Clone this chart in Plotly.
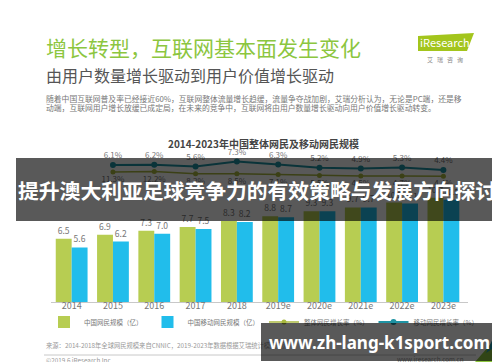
import plotly.graph_objects as go

W, H = 500, 362

# ---------------- data ----------------
categories = ["2014", "2015", "2016", "2017", "2018", "2019e", "2020e", "2021e", "2022e", "2023e"]
total_users = [6.5, 6.9, 7.3, 7.7, 8.3, 8.8, 9.3, 9.7, 10.2, 10.7]      # 中国网民规模（亿）
mobile_users = [5.6, 6.2, 7.0, 7.5, 8.2, 8.7, 9.3, 9.7, 10.1, 10.5]     # 中国移动网民规模（亿）
growth_categories = ["2015", "2016", "2017", "2018", "2019e", "2020e", "2021e", "2022e", "2023e"]
teal_growth = [6.1, 6.2, 5.6, 7.3, 6.3, 5.2, 4.9, 5.3, 4.4]            # 移动网民增长率（%）
olive_growth = [11.3, 12.2, 8.2, 8.5, 7.1, 5.5, 4.5, 4.7, 4.4]         # 整体网民增长率（%）

FONT = "Noto Sans CJK SC, Noto Sans, sans-serif"
GREEN = "#b7cd52"
BLUE = "#21bdeb"
TEAL = "#1f93a3"
OLIVE = "#a9b83f"


def px(x):
    return x / W


def py(y):
    return 1 - y / H


fig = go.Figure()
fig.add_trace(go.Bar(
    x=categories, y=total_users, name="中国网民规模（亿）",
    marker=dict(color=GREEN, line=dict(width=0)),
    text=[f"{v:.1f}" for v in total_users], textposition="outside",
    textfont=dict(size=8.5, color="#777"), cliponaxis=False,
))
fig.add_trace(go.Bar(
    x=categories, y=mobile_users, name="中国移动网民规模（亿）",
    marker=dict(color=BLUE, line=dict(width=0)),
    text=[f"{v:.1f}" for v in mobile_users], textposition="outside",
    textfont=dict(size=8.5, color="#777"), cliponaxis=False,
))
fig.add_trace(go.Scatter(
    x=growth_categories, y=olive_growth, yaxis="y3", name="整体网民增长率（%）",
    mode="lines+markers+text", line=dict(color=OLIVE, width=1.5),
    marker=dict(size=5, color=OLIVE),
    text=[f"{v:.1f}%" for v in olive_growth], textposition="bottom center",
    textfont=dict(size=8, color="#777"), cliponaxis=False,
))
fig.add_trace(go.Scatter(
    x=growth_categories, y=teal_growth, yaxis="y2", name="移动网民增长率（%）",
    mode="lines+markers+text", line=dict(color=TEAL, width=2),
    marker=dict(size=6, color=TEAL),
    text=[f"{v:.1f}%" for v in teal_growth], textposition="top center",
    textfont=dict(size=8, color="#777"), cliponaxis=False,
))

X0, X1, YB, YT = 43, 460, 294, 140
fig.update_layout(
    width=W, height=H,
    margin=dict(l=0, r=0, t=0, b=0, pad=0),
    paper_bgcolor="white", plot_bgcolor="white",
    font=dict(family=FONT, color="#666"),
    barmode="group", bargap=0.23, bargroupgap=0,
    xaxis=dict(domain=[px(X0), px(X1)], type="category", showgrid=False,
               showline=True, linecolor="#c8c8c8", linewidth=1, ticks="",
               ticklabelstandoff=-5,
               tickfont=dict(size=9, color="#777"), fixedrange=True),
    yaxis=dict(domain=[py(YB), py(YT)], range=[0, (YB - YT) / 9.75], visible=False),
    yaxis2=dict(overlaying="y", range=[-39.57, 11.77], visible=False),
    yaxis3=dict(overlaying="y", range=[-205.4, 51.3], visible=False),
    showlegend=True,
    legend=dict(orientation="h", x=px(36), y=py(314), xanchor="left", yanchor="middle",
                font=dict(size=6.5, color="#777"), bgcolor="rgba(0,0,0,0)",
                traceorder="normal", itemwidth=30),
)

shapes = [
    # iResearch logo block
    dict(type="path", xref="paper", yref="paper",
         path=f"M {px(410)},{py(28)} L {px(466)},{py(25)} L {px(459)},{py(43)} L {px(410)},{py(43)} Z",
         fillcolor="#a3c51c", line=dict(width=0)),
    # footer rule
    dict(type="line", xref="paper", yref="paper", x0=px(36), x1=px(468), y0=py(347), y1=py(347),
         line=dict(color="#c8c8c8", width=1)),
    # bottom-right decoration
    dict(type="path", xref="paper", yref="paper",
         path=f"M {px(500)},{py(316)} L {px(500)},{py(362)} L {px(460)},{py(362)} Z",
         fillcolor="#8dc63f", line=dict(width=0)),
    dict(type="path", xref="paper", yref="paper",
         path=f"M {px(500)},{py(300)} L {px(500)},{py(330)} L {px(478)},{py(345)} Z",
         fillcolor="#1d9cb3", line=dict(width=0)),
    # translucent headline banner over the chart
    dict(type="rect", xref="paper", yref="paper", layer="above",
         x0=px(8), x1=px(491), y0=py(213), y1=py(150),
         fillcolor="rgba(0,0,0,0.65)", line=dict(width=0)),
]
fig.update_layout(shapes=shapes)

ann = []


def text(x, y, s, size, color, anchor="left", family=FONT, **kw):
    ann.append(dict(x=px(x), y=py(y), xref="paper", yref="paper", text=s, showarrow=False,
                    xanchor=anchor, yanchor="middle", font=dict(size=size, color=color, family=family), **kw))


text(36, 39, "增长转型，互联网基本面发生变化", 21, "#8cc63f")
text(36, 67, "由用户数量增长驱动到用户价值增长驱动", 16, "#555")
text(36, 90, "随着中国互联网普及率已经接近60%，互联网整体流量增长趋缓，流量争夺战加剧，艾瑞分析认为，无论是PC端，还是移", 7.8, "#777")
text(36, 100, "动端，互联网用户增长放缓已成定局，在未来的竞争中，互联网将由用户数量增长驱动向用户价值增长驱动转变。", 7.8, "#777")
text(437, 34, "iResearch", 11, "white", anchor="center")
text(437, 51, "艾   瑞   咨   询", 6, "#888", anchor="center")
text(255, 135, "<b>2014-2023年中国整体网民及移动网民规模</b>", 10, "#444", anchor="center")
text(249, 181.5, "<b>提升澳大利亚足球竞争力的有效策略与发展方向探讨</b>", 20.8, "white", anchor="center")
text(36, 337, "来源：2014-2018年全球网民规模来自CNNIC，2019-2023年数据根据艾瑞统计模型预测", 6.3, "#999")
text(36, 352, "©2019.6 iResearch Inc.", 6.3, "#999")
text(458, 351, "www.iresearch.com.cn", 6.3, "#999", anchor="right")
text(489, 350, "5", 8, "white", anchor="center")

# translucent footer banner (annotation drawn last so it dims what lies beneath)
ann.append(dict(x=px(371.5), y=py(334), xref="paper", yref="paper", showarrow=False,
                xanchor="center", yanchor="middle", width=237, height=38, borderpad=0, borderwidth=0,
                bgcolor="rgba(0,0,0,0.65)",
                text="<b>www.zh-lang-k1sport.com</b>",
                font=dict(size=17, color="white", family="Noto Sans, Open Sans, sans-serif")))
fig.update_layout(annotations=ann)

fig.write_html("out.html")
